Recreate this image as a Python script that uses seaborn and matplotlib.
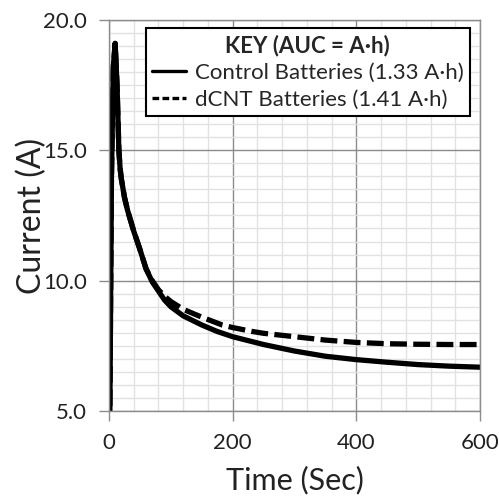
import pandas as pd
import seaborn as sns
import matplotlib.pyplot as plt
from matplotlib.lines import Line2D
from matplotlib.ticker import MultipleLocator, FormatStrFormatter

# values
control_t = [0, 4, 7, 10, 13, 16, 18, 20, 25, 30, 35, 40, 50, 60, 70, 80, 90, 100,
             120, 150, 175, 200, 250, 300, 350, 400, 450, 500, 550, 600]
control_i = [0.0, 14.0, 18.2, 19.1, 17.5, 15.0, 14.3, 13.9, 13.2, 12.7, 12.3, 11.9,
             11.2, 10.45, 9.95, 9.6, 9.25, 9.0, 8.65, 8.3, 8.05, 7.85, 7.55, 7.3,
             7.1, 6.97, 6.87, 6.78, 6.72, 6.68]
dcnt_t = [0, 4, 7, 10, 13, 16, 18, 20, 25, 30, 35, 40, 50, 60, 70, 80, 90, 100,
          120, 150, 183, 200, 232, 250, 300, 350, 400, 450, 500, 550, 600]
dcnt_i = [0.0, 14.0, 18.2, 19.1, 17.5, 15.0, 14.3, 13.9, 13.2, 12.7, 12.3, 11.9,
          11.2, 10.45, 10.0, 9.65, 9.4, 9.2, 8.9, 8.6, 8.3, 8.2, 8.05, 7.98, 7.85,
          7.72, 7.63, 7.58, 7.56, 7.55, 7.55]
labels = ['Control Batteries (1.33 A·h)', 'dCNT Batteries (1.41 A·h)']

df = pd.DataFrame({
    'Time': control_t + dcnt_t,
    'Current': control_i + dcnt_i,
    'Series': [labels[0]] * len(control_t) + [labels[1]] * len(dcnt_t),
})

sns.set_style('white')
plt.rcParams['font.family'] = ['Lato', 'DejaVu Sans']

fig = plt.figure(figsize=(4.99, 4.98), dpi=100)
ax = fig.add_axes([0.2184, 0.1747, 0.7436, 0.7853])

sns.lineplot(data=df, x='Time', y='Current', style='Series', color='black',
             dashes={labels[0]: '', labels[1]: (3.2, 1.2)}, linewidth=3.8,
             legend=False, ax=ax, sort=False)

ax.set_xlim(0, 600)
ax.set_ylim(5, 20)
ax.xaxis.set_major_locator(MultipleLocator(200))
ax.xaxis.set_minor_locator(MultipleLocator(40))
ax.yaxis.set_major_locator(MultipleLocator(5))
ax.yaxis.set_minor_locator(MultipleLocator(0.5))
ax.yaxis.set_major_formatter(FormatStrFormatter('%.1f'))

ax.grid(which='major', color='#8c8c8c', linewidth=1.0)
ax.grid(which='minor', color='#e2e2e2', linewidth=1.0)
ax.set_axisbelow(True)
for s in ax.spines.values():
    s.set_color('#8c8c8c')
    s.set_linewidth(1.0)

ax.tick_params(which='major', length=7, width=1.0, color='#8c8c8c',
               labelsize=16, labelcolor='#222222', pad=9, direction='out',
               bottom=True, left=True)
ax.tick_params(which='minor', length=0)

ax.set_xlabel('Time (Sec)', fontsize=22, color='#222222', labelpad=9)
ax.set_ylabel('Current (A)', fontsize=23, color='#222222', labelpad=-3)

handles = [Line2D([], [], color='black', lw=2.4, ls='-'),
           Line2D([], [], color='black', lw=2.4, ls=(0, (2.0, 1.0)))]
leg = ax.legend(handles, labels, title='KEY (AUC = A·h)', loc='upper right',
                bbox_to_anchor=(0.973, 0.98), fontsize=16, handlelength=1.5,
                handletextpad=0.4, borderpad=0.3, labelspacing=0.3,
                borderaxespad=0, frameon=True, fancybox=False, framealpha=1)
leg.get_title().set_fontweight('bold')
leg.get_title().set_fontsize(16)
leg.get_frame().set_edgecolor('black')
leg.get_frame().set_linewidth(1.5)

fig.savefig('out.png', dpi=100)
